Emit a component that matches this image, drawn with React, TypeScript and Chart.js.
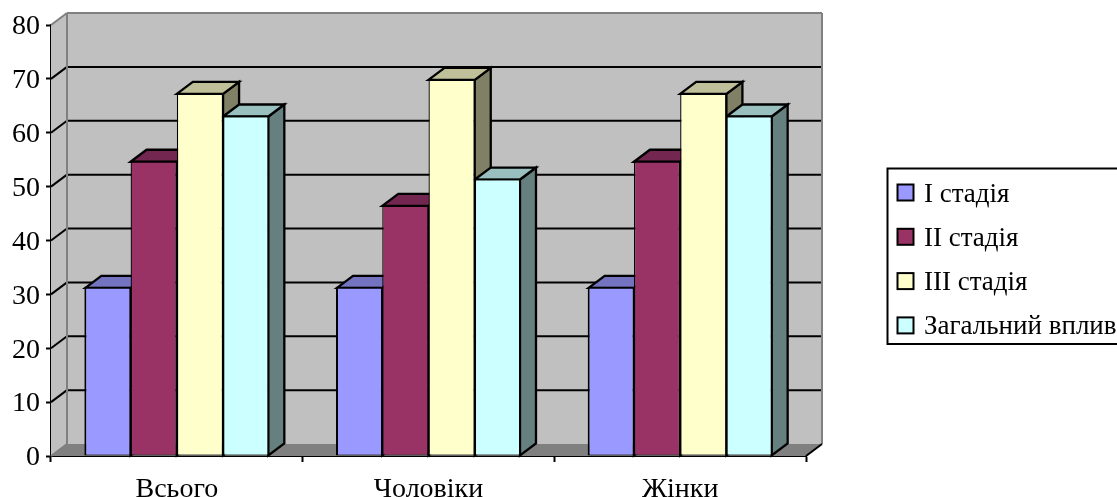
import React, { useEffect, useRef } from "react";
import { Chart, registerables } from "chart.js";

Chart.register(...registerables);

const categories = ["Всього", "Чоловіки", "Жінки"];
const stage1 = [31.4, 31.4, 31.4];
const stage2 = [54.8, 46.6, 54.8];
const stage3 = [67.4, 70, 67.4];
const overall = [63.2, 51.5, 63.2];

const seriesNames = ["I стадія", "II стадія", "III стадія", "Загальний вплив"];
const frontColors = ["#9999FF", "#993366", "#FFFFCC", "#CCFFFF"];
const topColors = ["#7373BF", "#732650", "#BFBF99", "#99BFBF"];
const sideColors = ["#4D4D80", "#4D1A33", "#808066", "#668080"];

const DEPTH_X = 16;
const DEPTH_Y = -12;
const WALL = "#C0C0C0";
const FRAME = "#808080";
const SERIF = '"Liberation Serif", serif';

function poly(ctx: CanvasRenderingContext2D, pts: number[][], fill: string | null, stroke: string | null, lw = 2.3) {
  ctx.beginPath();
  pts.forEach(([x, y], i) => (i ? ctx.lineTo(x, y) : ctx.moveTo(x, y)));
  ctx.closePath();
  if (fill) {
    ctx.fillStyle = fill;
    ctx.fill();
  }
  if (stroke) {
    ctx.strokeStyle = stroke;
    ctx.lineWidth = lw;
    ctx.lineJoin = "miter";
    ctx.stroke();
  }
}

function line(ctx: CanvasRenderingContext2D, x1: number, y1: number, x2: number, y2: number, color: string, lw = 2) {
  ctx.beginPath();
  ctx.moveTo(x1, y1);
  ctx.lineTo(x2, y2);
  ctx.strokeStyle = color;
  ctx.lineWidth = lw;
  ctx.stroke();
}

// Back wall, side wall, floor and gridlines of the box behind the bars,
// then the top and side faces of each bar so that the fronts land over them.
const boxPlugin = {
  id: "box3d",
  beforeDatasetsDraw(chart: any) {
    const { ctx, chartArea: a, scales } = chart;
    const y = scales.y;
    const { left: l, right: r, top: t, bottom: b } = a;
    const dx = DEPTH_X;
    const dy = DEPTH_Y;
    ctx.save();
    poly(ctx, [[l + dx, t + dy], [r + dx, t + dy], [r + dx, b + dy], [l + dx, b + dy]], WALL, null);
    poly(ctx, [[l, t], [l + dx, t + dy], [l + dx, b + dy], [l, b]], WALL, null);
    poly(ctx, [[l, b], [l + dx, b + dy], [r + dx, b + dy], [r, b]], FRAME, null);

    y.ticks.forEach((tick: any) => {
      const py = y.getPixelForValue(tick.value);
      if (tick.value === 0 || tick.value === 80) return;
      line(ctx, l + dx, py + dy, r + dx, py + dy, "#000000");
      line(ctx, l, py, l + dx, py + dy, "#000000");
    });
    line(ctx, l + dx, t + dy, r + dx, t + dy, FRAME);
    line(ctx, l + dx, t + dy, l + dx, b + dy, FRAME);
    line(ctx, r + dx, t + dy, r + dx, b + dy, FRAME);
    line(ctx, l, t, l + dx, t + dy, FRAME);
    line(ctx, l, b, l + dx, b + dy, FRAME);
    line(ctx, r, b, r + dx, b + dy, "#000000");

    const last = chart.data.datasets.length - 1;
    chart.data.datasets.forEach((_: any, di: number) => {
      chart.getDatasetMeta(di).data.forEach((bar: any) => {
        const half = bar.width / 2;
        const x0 = bar.x - half + (di === 0 ? 1 : 0);
        const x1 = bar.x + half - (di === last ? 1 : 0);
        const top = bar.y + 1;
        const bot = bar.base;
        poly(ctx, [[x1, top], [x1 + dx, top + dy], [x1 + dx, bot + dy], [x1, bot]], sideColors[di], "#000000");
        poly(ctx, [[x0, top], [x0 + dx, top + dy], [x1 + dx, top + dy], [x1, top]], topColors[di], "#000000");
      });
    });
    ctx.restore();
  },
  afterDraw(chart: any) {
    const { ctx, scales } = chart;
    ctx.save();

    // Value labels sit a little below the tick they belong to.
    const y = scales.y;
    ctx.font = `28px ${SERIF}`;
    ctx.fillStyle = "#000000";
    ctx.textAlign = "right";
    ctx.textBaseline = "middle";
    y.ticks.forEach((tick: any) => {
      ctx.fillText(String(tick.value), 40, y.getPixelForValue(tick.value) + 2);
    });

    // Legend box at the right of the plot, clipped by the edge of the canvas.
    ctx.strokeStyle = "#000000";
    ctx.lineWidth = 2;
    ctx.fillStyle = "#FFFFFF";
    ctx.beginPath();
    ctx.rect(887.5, 168.5, 240, 175.5);
    ctx.fill();
    ctx.stroke();
    ctx.font = `27px ${SERIF}`;
    ctx.textBaseline = "alphabetic";
    ctx.textAlign = "left";
    seriesNames.forEach((name, i) => {
      const top = 184.5 + i * 44.3;
      ctx.fillStyle = frontColors[i];
      ctx.fillRect(897.5, top, 16, 16);
      ctx.strokeStyle = "#000000";
      ctx.lineWidth = 2;
      ctx.strokeRect(897.5, top, 16, 16);
      ctx.fillStyle = "#000000";
      ctx.fillText(name, 924, top + 17);
    });
    ctx.restore();
  },
};

export default function App() {
  const ref = useRef<HTMLCanvasElement>(null);

  useEffect(() => {
    document.body.style.margin = "0";
    const values = [stage1, stage2, stage3, overall];
    const chart = new Chart(ref.current!, {
      type: "bar",
      data: {
        labels: categories,
        datasets: seriesNames.map((label, i) => ({
          label,
          data: values[i],
          backgroundColor: frontColors[i],
          borderColor: "#000000",
          borderWidth: { left: i === 0 ? 2 : 1.3, right: i === seriesNames.length - 1 ? 2 : 1.3, top: 2, bottom: 1 },
          borderSkipped: false,
          barPercentage: 1,
          categoryPercentage: 0.735,
        })),
      },
      plugins: [boxPlugin],
      options: {
        responsive: false,
        animation: false,
        layout: { padding: { top: 25, right: 311, left: 0, bottom: 0 } },
        plugins: { legend: { display: false }, tooltip: { enabled: false } },
        scales: {
          x: {
            afterFit: (s: any) => {
              s.height = 41;
            },
            border: { color: "#000000", width: 2 },
            grid: { drawOnChartArea: false, tickLength: 6, tickColor: "#000000", tickWidth: 2 },
            ticks: {
              color: "#000000",
              padding: 11,
              maxRotation: 0,
              font: { family: SERIF, size: 28 },
            },
          },
          y: {
            min: 0,
            max: 80,
            afterFit: (s: any) => {
              s.width = 51;
            },
            border: { color: "#000000", width: 2 },
            grid: { drawOnChartArea: false, tickLength: 5, tickColor: "#000000", tickWidth: 2 },
            ticks: {
              display: false,
              stepSize: 10,
            },
          },
        },
      },
    });
    return () => chart.destroy();
  }, []);

  return (
    <canvas
      ref={ref}
      width={1117}
      height={497}
      style={{ display: "block", width: 1117, height: 497, background: "#FFFFFF" }}
    />
  );
}
